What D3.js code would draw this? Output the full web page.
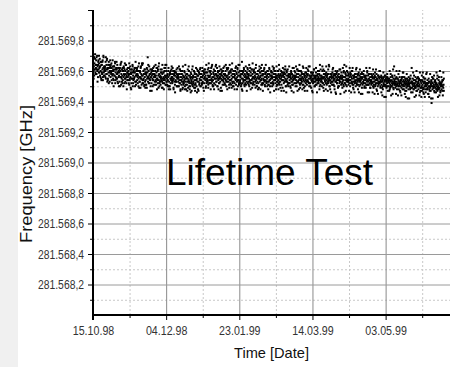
<!DOCTYPE html>
<html>
<head>
<meta charset="utf-8">
<script src="https://cdn.jsdelivr.net/npm/d3@7"></script>
<style>
  html, body { margin: 0; padding: 0; background: #fff; }
  svg { display: block; font-family: "Liberation Sans", Arial, sans-serif; }
</style>
</head>
<body>
<svg id="chart"></svg>
<script>
// x axis: dates (dd.mm.yy)
const xTickLabels = ["15.10.98", "04.12.98", "23.01.99", "14.03.99", "03.05.99"];
const xDomain = ["15.10.98", "16.06.99"];

// y axis: frequency in GHz
const yTickValues = [281.5682, 281.5684, 281.5686, 281.5688, 281.5690, 281.5692, 281.5694, 281.5696, 281.5698];
const yTickLabels = ["281.568,2", "281.568,4", "281.568,6", "281.568,8", "281.569,0", "281.569,2", "281.569,4", "281.569,6", "281.569,8"];
const yDomain = [281.5680, 281.5700];

// readings are offsets from 281.569 GHz in units of 10 kHz
const freqBase = 281.569;
const freqUnit = 1e-5;

// run A: [day after 15.10.98, then 10 readings over two days]
const readingsA = [
  [0, 66,60,69,63,57,65,61,68,59,64],
  [2, 62,67,58,64,70,60,63,56,66,61],
  [4, 59,65,62,68,57,63,60,66,55,64],
  [6, 64,58,61,67,56,62,69,59,63,60],
  [8, 57,63,60,66,55,61,64,58,68,62],
  [10, 61,55,64,59,66,57,62,53,60,63],
  [12, 56,62,59,65,54,60,57,63,58,61],
  [14, 60,54,63,57,61,66,52,59,56,62],
  [16, 55,61,58,64,53,59,62,56,60,57],
  [18, 59,53,62,56,60,65,51,58,55,61],
  [20, 57,62,54,60,56,63,58,52,61,55],
  [22, 60,55,58,64,52,57,61,54,59,56],
  [24, 54,60,57,62,51,58,55,61,56,59],
  [26, 58,52,61,55,59,64,50,57,54,60],
  [28, 55,61,56,59,53,62,57,51,60,58],
  [30, 61,54,58,52,57,63,55,60,49,56],
  [32, 53,59,56,62,55,58,51,57,64,54],
  [34, 57,52,60,55,58,50,61,56,53,59],
  [36, 54,58,51,57,62,55,59,69,53,56],
  [38, 60,55,57,52,58,54,61,50,56,59],
  [40, 52,57,61,55,50,58,54,60,56,63],
  [42, 58,53,56,60,54,57,51,59,55,62],
  [44, 55,60,52,57,63,54,58,50,56,53],
  [46, 57,51,59,54,56,61,53,58,49,55],
  [48, 54,59,56,52,60,55,57,62,51,56],
  [50, 60,53,57,55,51,58,54,56,62,50],
  [52, 53,57,50,59,55,52,58,54,61,56],
  [54, 56,52,58,54,60,49,55,57,53,59],
  [56, 51,57,54,59,53,56,50,58,55,62],
  [58, 57,53,55,50,58,54,61,52,56,48],
  [60, 54,58,51,56,53,60,55,49,57,52],
  [62, 52,56,54,59,50,55,57,53,48,58],
  [64, 56,51,58,53,55,49,57,54,60,52],
  [66, 53,57,50,55,59,52,54,47,56,51],
  [68, 55,50,57,53,56,60,51,54,58,49],
  [70, 52,56,54,58,50,55,61,53,57,48],
  [72, 57,53,59,51,55,58,54,62,50,56],
  [74, 54,58,52,56,60,53,57,49,55,59],
  [76, 58,52,56,61,54,57,50,59,55,53],
  [78, 55,59,53,57,51,62,56,54,60,52],
  [80, 57,54,60,52,58,55,63,53,56,50],
  [82, 54,59,56,61,52,57,55,60,51,58],
  [84, 58,53,57,55,62,50,56,59,54,57],
  [86, 55,60,52,58,56,53,61,49,57,55],
  [88, 59,54,57,51,60,56,53,58,55,63],
  [90, 52,58,55,60,54,57,50,56,61,53],
  [92, 57,55,62,53,58,51,56,59,54,60],
  [94, 54,59,51,57,55,61,53,58,50,56],
  [96, 60,53,56,58,52,57,55,62,54,51],
  [98, 55,58,53,56,61,50,57,54,59,52],
  [100, 53,57,60,54,56,52,58,51,55,66],
  [102, 58,52,55,59,53,57,61,54,50,56],
  [104, 54,60,57,51,56,53,59,55,62,52],
  [106, 56,53,58,55,50,60,54,57,52,59],
  [108, 52,57,54,61,55,58,51,56,53,60],
  [110, 59,55,51,57,53,56,62,54,58,50],
  [112, 55,58,53,56,60,52,57,49,55,61],
  [114, 53,56,59,54,57,51,55,60,52,58],
  [116, 57,52,55,58,54,61,53,56,50,59],
  [118, 54,59,56,52,57,55,60,53,58,51],
  [120, 56,53,58,61,54,50,57,55,52,59],
  [122, 52,57,55,59,53,56,51,58,62,54],
  [124, 58,54,56,52,60,55,57,50,56,53],
  [126, 55,51,57,54,58,52,56,61,53,57],
  [128, 53,58,55,60,51,56,54,57,49,59],
  [130, 57,54,52,56,59,53,58,55,61,50],
  [132, 54,57,60,53,55,51,57,52,56,58],
  [134, 52,56,54,58,50,57,55,60,53,55],
  [136, 58,53,56,51,57,54,62,55,52,56],
  [138, 55,59,52,57,54,56,50,58,53,61],
  [140, 53,56,58,54,60,52,55,57,49,54],
  [142, 57,52,55,59,53,56,51,58,55,62],
  [144, 54,58,53,56,50,57,55,52,59,53],
  [146, 56,51,57,54,58,53,60,55,52,57],
  [148, 52,57,55,50,56,59,54,57,53,55],
  [150, 58,54,52,57,55,61,53,56,50,55],
  [152, 53,56,59,54,51,57,55,52,58,54],
  [154, 56,52,55,58,54,50,57,55,61,53],
  [156, 54,57,53,55,60,52,56,49,55,58],
  [158, 51,56,58,53,55,57,52,59,54,56],
  [160, 57,53,55,52,58,54,64,55,50,56],
  [162, 54,58,52,56,53,57,55,51,59,53],
  [164, 56,51,57,54,58,50,55,57,53,60],
  [166, 53,56,54,59,52,55,57,54,50,56],
  [168, 58,54,52,56,55,61,53,57,51,55],
  [170, 55,52,57,53,56,54,59,50,56,64],
  [172, 52,56,54,58,51,57,55,53,60,54],
  [174, 57,53,55,51,58,54,52,56,54,59],
  [176, 54,58,52,56,53,55,60,51,57,53],
  [178, 51,55,57,53,56,52,54,58,50,56],
  [180, 56,52,54,58,53,57,51,55,59,54],
  [182, 53,57,55,51,56,54,58,52,55,49],
  [184, 55,51,56,53,58,52,54,57,50,56],
  [186, 52,56,54,57,51,55,53,59,54,51],
  [188, 57,53,51,55,54,58,52,56,49,54],
  [190, 54,51,56,53,57,52,55,50,58,53],
  [192, 51,55,53,57,50,54,56,52,54,58],
  [194, 55,52,54,50,57,53,51,56,53,55],
  [196, 52,56,50,54,53,57,51,55,49,53],
  [198, 54,50,55,52,56,51,53,57,50,54],
  [200, 51,55,53,49,54,52,56,50,55,53],
  [202, 53,50,55,52,48,54,51,56,53,50],
  [204, 50,54,52,56,51,53,49,55,52,63],
  [206, 54,51,53,49,55,52,50,56,53,51],
  [208, 51,55,52,50,54,48,53,51,56,52],
  [210, 53,50,54,52,49,55,51,53,48,56],
  [212, 50,54,51,53,56,50,52,47,54,51],
  [214, 53,49,52,55,51,54,50,52,48,53],
  [216, 51,54,50,52,48,55,52,49,53,62],
  [218, 49,53,51,55,50,52,48,54,51,50],
  [220, 52,50,54,49,53,47,51,55,50,52],
  [222, 50,53,48,52,55,50,51,46,54,49],
  [224, 53,49,52,50,47,54,51,53,48,56],
  [226, 49,52,55,50,53,48,51,46,52,50],
  [228, 52,48,51,54,49,52,45,50,53,48],
  [230, 50,53,49,52,47,51,54,39,50,52],
  [232, 48,52,50,55,49,51,47,53,50,54],
  [234, 53,49,51,48,52,50,55,47,51,49],
  [236, 50,54,48,52,49,53,51,46,52,50],
  [238, 52,48,51,53,47,50,54,49,51,55]
];

// run B: [day after 15.10.98, then 6 readings over two days]
const readingsB = [
  [0, 66,55,69,61,71,58], [2, 58,69,61,53,64,67], [4, 70,59,63,56,66,54],
  [6, 59,66,54,70,57,61], [8, 62,56,69,58,67,53], [10, 54,62,52,64,59,67],
  [12, 64,58,62,52,67,55], [14, 50,63,57,65,54,61], [16, 66,55,59,52,62,50],
  [18, 61,50,64,56,66,53], [20, 52,60,50,62,57,65], [22, 53,64,56,48,59,62],
  [24, 58,52,65,54,63,49], [26, 48,61,55,63,52,59], [28, 55,62,50,66,53,57],
  [30, 62,56,60,50,65,53], [32, 60,49,63,55,65,52], [34, 65,54,58,51,61,49],
  [36, 51,59,49,61,56,64], [38, 52,63,55,47,58,61], [40, 47,60,54,62,51,58],
  [42, 57,51,64,53,62,48], [44, 54,61,49,65,52,56], [46, 61,55,59,49,64,52],
  [48, 59,48,62,54,64,51], [50, 64,53,57,50,60,48], [52, 50,58,48,60,55,63],
  [54, 53,62,55,48,58,60], [56, 46,59,53,61,50,57], [58, 56,50,63,52,61,47],
  [60, 60,54,58,48,63,51], [62, 53,60,48,64,51,55], [64, 58,47,61,53,63,50],
  [66, 48,56,46,58,53,61], [68, 63,52,56,49,59,47], [70, 51,62,54,46,57,60],
  [72, 47,59,52,61,50,58], [74, 56,51,62,52,60,47], [76, 61,55,59,49,64,52],
  [78, 54,61,49,65,52,56], [80, 59,48,62,54,64,51], [82, 50,58,48,60,55,63],
  [84, 64,53,57,50,60,48], [86, 52,63,55,47,58,61], [88, 47,60,54,62,51,58],
  [90, 57,51,64,53,62,48], [92, 61,55,59,49,64,52], [94, 54,61,49,65,52,56],
  [96, 50,58,48,60,55,63], [98, 59,48,62,54,64,51], [100, 64,53,57,50,60,48],
  [102, 47,60,54,62,51,58], [104, 52,63,55,47,58,61], [106, 57,51,64,53,62,48],
  [108, 54,61,49,65,52,56], [110, 61,55,59,49,64,52], [112, 50,58,48,60,55,63],
  [114, 59,48,62,54,64,51], [116, 47,60,54,62,51,58], [118, 64,53,57,50,60,48],
  [120, 51,62,54,46,57,60], [122, 56,50,63,52,61,47], [124, 60,54,58,48,63,51],
  [126, 53,60,48,64,51,55], [128, 49,57,47,59,54,62], [130, 58,47,61,53,63,50],
  [132, 46,59,53,61,50,57], [134, 63,52,56,49,59,47], [136, 51,62,54,46,57,60],
  [138, 56,50,63,52,61,47], [140, 53,60,48,64,51,55], [142, 60,54,58,48,63,51],
  [144, 49,57,47,59,54,62], [146, 58,47,61,53,63,50], [148, 63,52,56,49,59,47],
  [150, 46,59,53,61,50,57], [152, 51,62,54,46,57,60], [154, 53,60,48,64,51,55],
  [156, 56,50,63,52,61,47], [158, 60,54,58,48,63,51], [160, 58,47,61,53,63,50],
  [162, 48,56,46,58,53,61], [164, 62,51,55,48,58,46], [166, 45,58,52,60,49,56],
  [168, 50,61,53,45,56,59], [170, 55,49,62,51,60,46], [172, 52,59,47,63,50,54],
  [174, 59,53,57,47,62,50], [176, 57,46,60,52,62,49], [178, 48,56,46,58,53,61],
  [180, 62,51,55,48,58,46], [182, 50,61,53,45,56,59], [184, 45,58,52,60,49,56],
  [186, 55,49,62,51,60,46], [188, 51,58,46,62,49,53], [190, 58,52,56,46,61,49],
  [192, 56,45,59,51,61,48], [194, 47,55,45,57,52,60], [196, 60,49,53,46,56,44],
  [198, 48,59,51,43,54,57], [200, 43,56,50,58,47,54], [202, 53,47,60,49,58,44],
  [204, 50,57,45,61,48,52], [206, 57,51,55,45,60,48], [208, 55,44,58,50,60,47],
  [210, 46,54,44,56,51,59], [212, 59,48,52,45,55,43], [214, 47,58,50,42,53,56],
  [216, 42,55,49,57,46,53], [218, 52,46,59,48,57,43], [220, 49,56,44,60,47,51],
  [222, 56,50,54,44,59,47], [224, 54,43,57,49,59,46], [226, 45,53,43,55,50,58],
  [228, 59,48,52,45,55,43], [230, 47,58,50,42,53,56], [232, 42,55,49,57,46,53],
  [234, 52,46,59,48,57,43], [236, 49,56,44,60,47,51], [238, 56,50,54,44,59,47]
];

const width = 450, height = 367;
const plotLeft = 93, plotRight = 450, plotTop = 10, plotBottom = 315;

const svg = d3.select('#chart')
    .attr('width', width)
    .attr('height', height);

// grey strip on the left
svg.append('rect')
    .attr('x', 0).attr('y', 0)
    .attr('width', 18).attr('height', height)
    .attr('fill', '#f0f0f0');

const parseDate = d3.utcParse('%d.%m.%y');
const start = parseDate(xDomain[0]);

const x = d3.scaleUtc()
    .domain(xDomain.map(parseDate))
    .range([plotLeft, plotRight]);

const y = d3.scaleLinear()
    .domain(yDomain)
    .range([plotBottom, plotTop]);

const xMajor = xTickLabels.map(parseDate);
const xMinor = xMajor.map(d => d3.utcDay.offset(d, 25));
const yMinor = [yDomain[0]].concat(yTickValues).map(v => +(v + 0.0001).toFixed(4));

// minor grid, dashed
svg.append('g')
    .attr('transform', `translate(0,${plotBottom})`)
    .call(d3.axisBottom(x).tickValues(xMinor).tickSize(-(plotBottom - plotTop)).tickFormat(''))
    .call(g => g.select('.domain').remove())
    .selectAll('line')
    .attr('stroke', '#c8c8c8')
    .attr('stroke-dasharray', '2,2');

svg.append('g')
    .attr('transform', `translate(${plotLeft},0)`)
    .call(d3.axisLeft(y).tickValues(yMinor).tickSize(-(plotRight - plotLeft)).tickFormat(''))
    .call(g => g.select('.domain').remove())
    .selectAll('line')
    .attr('stroke', '#c8c8c8')
    .attr('stroke-dasharray', '2,2');

// major grid, solid
svg.append('g')
    .attr('transform', `translate(0,${plotBottom})`)
    .call(d3.axisBottom(x).tickValues(xMajor.slice(1)).tickSize(-(plotBottom - plotTop)).tickFormat(''))
    .call(g => g.select('.domain').remove())
    .selectAll('line')
    .attr('stroke', '#8a8a8a');

svg.append('g')
    .attr('transform', `translate(${plotLeft},0)`)
    .call(d3.axisLeft(y).tickValues(yTickValues).tickSize(-(plotRight - plotLeft)).tickFormat(''))
    .call(g => g.select('.domain').remove())
    .selectAll('line')
    .attr('stroke', '#9a9a9a');

// points: run A every 0.2 day, run B every 1/3 day
const points = [];
readingsA.forEach(r => {
    r.slice(1).forEach((v, k) => {
        points.push({
            date: new Date(start.getTime() + (r[0] + k * 0.2) * 864e5),
            freq: freqBase + v * freqUnit
        });
    });
});
readingsB.forEach(r => {
    r.slice(1).forEach((v, k) => {
        points.push({
            date: new Date(start.getTime() + (r[0] + 0.1 + k / 3) * 864e5),
            freq: freqBase + v * freqUnit
        });
    });
});

svg.append('g')
    .selectAll('rect')
    .data(points)
    .enter()
    .append('rect')
    .attr('x', d => x(d.date) - 1)
    .attr('y', d => y(d.freq) - 1)
    .attr('width', 2)
    .attr('height', 2)
    .attr('fill', '#000');

// axes
const yAxis = svg.append('g')
    .attr('transform', `translate(${plotLeft},0)`)
    .call(d3.axisLeft(y).tickValues(yTickValues.concat([yDomain[1]])).tickSize(5).tickPadding(4)
        .tickFormat((d, i) => yTickLabels[i] || ''));
yAxis.select('.domain').remove();
yAxis.selectAll('line').attr('stroke', '#000');
yAxis.selectAll('text')
    .attr('fill', '#333')
    .style('font-size', '12.5px')
    .attr('textLength', 46)
    .attr('lengthAdjust', 'spacingAndGlyphs');

const yAxisMinor = svg.append('g')
    .attr('transform', `translate(${plotLeft},0)`)
    .call(d3.axisLeft(y).tickValues(yMinor).tickSize(3).tickFormat(''));
yAxisMinor.select('.domain').remove();
yAxisMinor.selectAll('line').attr('stroke', '#000');

const xAxis = svg.append('g')
    .attr('transform', `translate(0,${plotBottom})`)
    .call(d3.axisBottom(x).tickValues(xMajor).tickSize(5).tickPadding(6)
        .tickFormat((d, i) => xTickLabels[i]));
xAxis.select('.domain').remove();
xAxis.selectAll('line').attr('stroke', '#000');
xAxis.selectAll('text')
    .attr('fill', '#333')
    .style('font-size', '12.5px')
    .attr('textLength', 41.5)
    .attr('lengthAdjust', 'spacingAndGlyphs');

const xAxisMinor = svg.append('g')
    .attr('transform', `translate(0,${plotBottom})`)
    .call(d3.axisBottom(x).tickValues(xMinor).tickSize(3).tickFormat(''));
xAxisMinor.select('.domain').remove();
xAxisMinor.selectAll('line').attr('stroke', '#000');

// axis lines
svg.append('line')
    .attr('x1', plotLeft).attr('x2', plotLeft)
    .attr('y1', plotTop).attr('y2', plotBottom + 5)
    .attr('stroke', '#000').attr('stroke-width', 2);
svg.append('line')
    .attr('x1', plotLeft - 1).attr('x2', plotRight)
    .attr('y1', plotBottom).attr('y2', plotBottom)
    .attr('stroke', '#000').attr('stroke-width', 2);

// titles
svg.append('text')
    .attr('x', (plotLeft + plotRight) / 2)
    .attr('y', 358)
    .attr('text-anchor', 'middle')
    .attr('fill', '#111')
    .style('font-size', '15px')
    .attr('textLength', 75)
    .attr('lengthAdjust', 'spacingAndGlyphs')
    .text('Time [Date]');

svg.append('text')
    .attr('transform', 'translate(32,174) rotate(-90)')
    .attr('text-anchor', 'middle')
    .attr('fill', '#111')
    .style('font-size', '16.5px')
    .attr('textLength', 138)
    .attr('lengthAdjust', 'spacingAndGlyphs')
    .text('Frequency [GHz]');

svg.append('text')
    .attr('x', 166)
    .attr('y', 185)
    .attr('fill', '#000')
    .style('font-size', '37px')
    .text('Lifetime Test');
</script>
</body>
</html>
